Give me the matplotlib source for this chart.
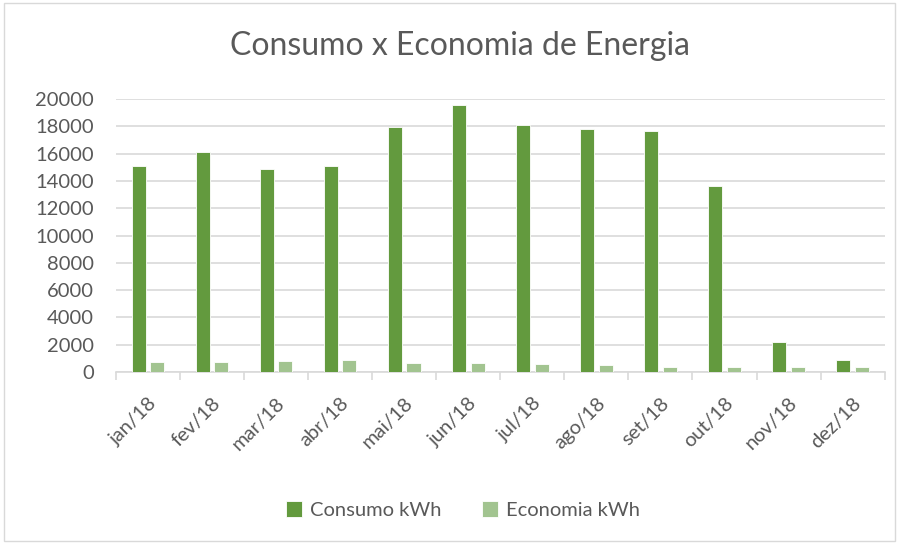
import numpy as np
import matplotlib.pyplot as plt
from matplotlib.patches import Rectangle

months = ['jan/18', 'fev/18', 'mar/18', 'abr/18', 'mai/18', 'jun/18',
          'jul/18', 'ago/18', 'set/18', 'out/18', 'nov/18', 'dez/18']
consumo = [15100, 16100, 14850, 15100, 17980, 19540,
           18070, 17800, 17680, 13640, 2170, 900]
economia = [760, 710, 800, 850, 680, 630,
            610, 540, 390, 390, 390, 340]

plt.rcParams['font.family'] = ['Lato', 'DejaVu Sans']
text_color = '#595959'

fig = plt.figure(figsize=(8.99, 5.44), dpi=100)
ax = fig.add_axes([0.129, 0.316, 0.855, 0.502])

x = np.arange(len(months))
w = 0.22
ax.bar(x - 0.145, consumo, width=w, color='#639A3E', edgecolor='white',
       linewidth=0.6, label='Consumo kWh', zorder=3)
ax.bar(x + 0.145, economia, width=w, color='#A2C490', edgecolor='white',
       linewidth=0.6, label='Economia kWh', zorder=3)

ax.set_xlim(-0.5, len(months) - 0.5)
ax.set_ylim(0, 20000)
ax.set_yticks(np.arange(0, 20001, 2000))
ax.yaxis.grid(True, color='#D9D9D9', linewidth=1.2, zorder=0)
ax.tick_params(axis='y', length=0, labelsize=14.5, colors=text_color, pad=16)

ax.set_xticks(x)
ax.set_xticklabels(months, rotation=45, ha='right', rotation_mode='anchor',
                   fontsize=14.5, color=text_color)
ax.tick_params(axis='x', which='major', length=0, pad=16)
ax.set_xticks(np.arange(-0.5, len(months)), minor=True)
ax.tick_params(axis='x', which='minor', length=6, color='#D9D9D9', width=1.2)

for side in ['top', 'right', 'left']:
    ax.spines[side].set_visible(False)
ax.spines['bottom'].set_color('#D9D9D9')
ax.spines['bottom'].set_linewidth(1.2)

fig.text(0.512, 0.915, 'Consumo x Economia de Energia', ha='center',
         va='center', fontsize=23, color=text_color)

fig.legend(loc='center', bbox_to_anchor=(0.515, 0.062), ncol=2, frameon=False,
           fontsize=14.5, labelcolor=text_color, handlelength=0.8,
           handleheight=0.8, handletextpad=0.4, columnspacing=2.0)

fig.patches.append(Rectangle((0.004, 0.006), 0.992, 0.988,
                             transform=fig.transFigure, fill=False,
                             edgecolor='#D9D9D9', linewidth=1.0))

fig.savefig('out.png', dpi=100, facecolor='white')
